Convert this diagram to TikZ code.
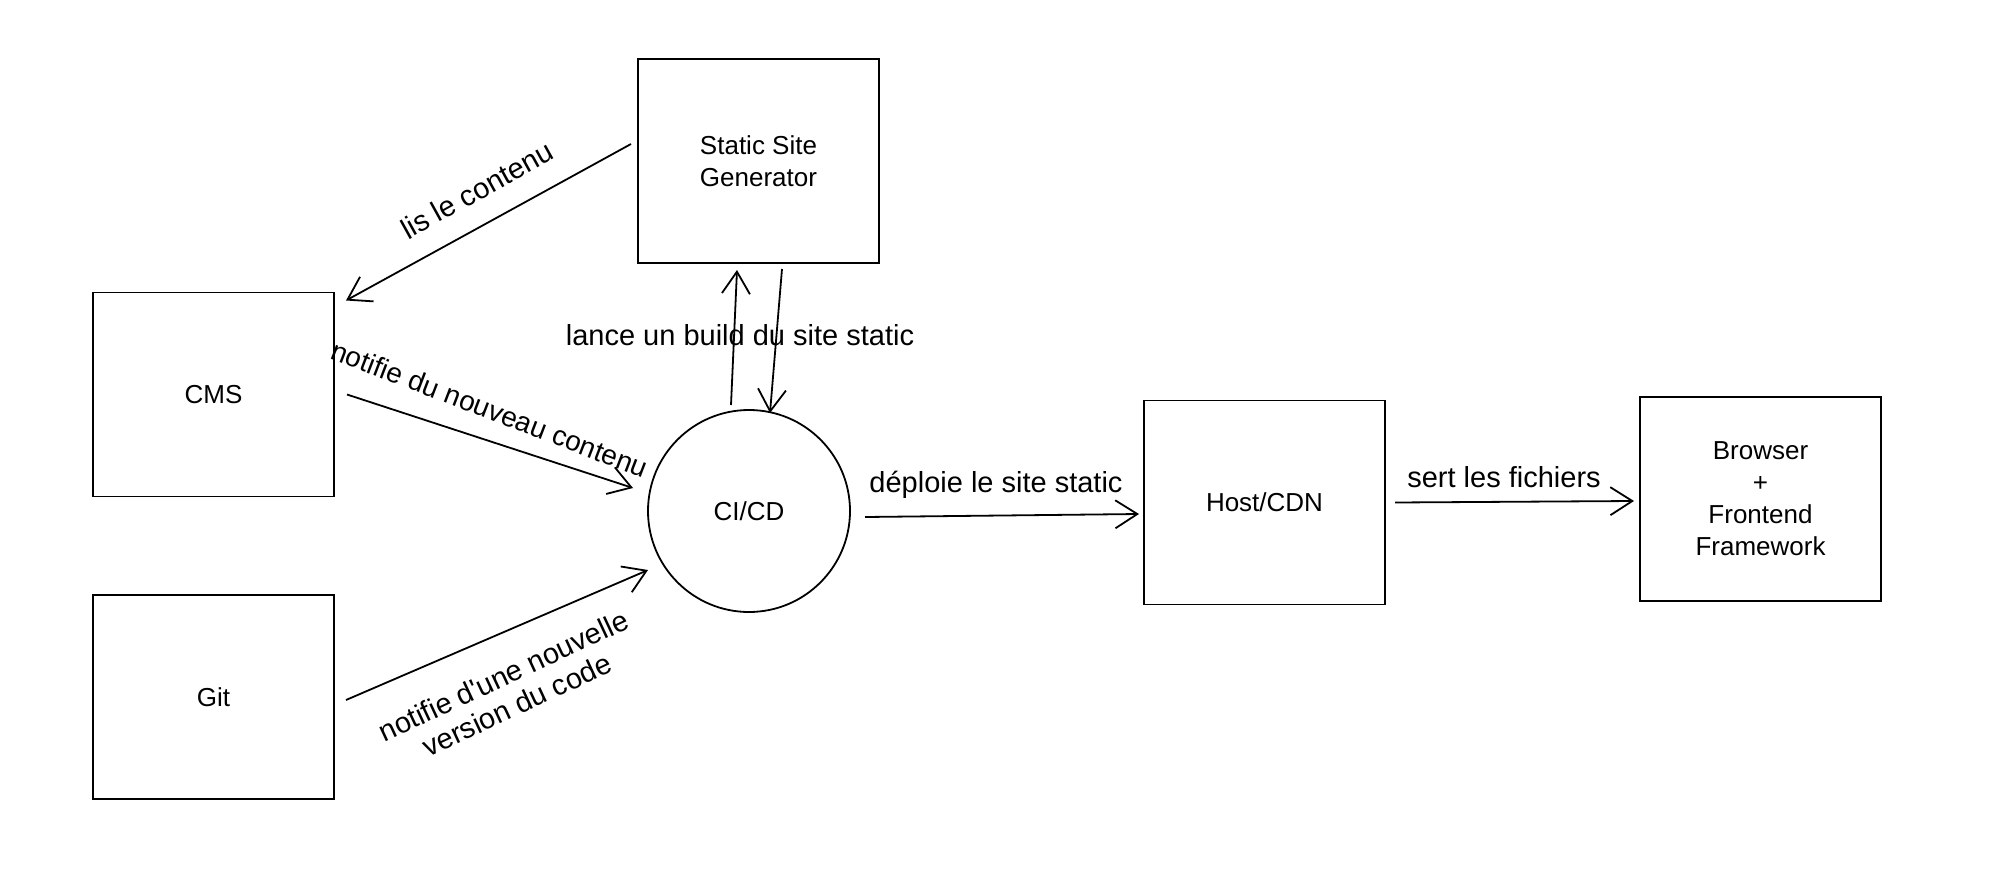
\documentclass[tikz,border=0pt]{standalone}
\usepackage{fontspec}
\setmainfont{Liberation Sans}
\usetikzlibrary{arrows.meta,calc}
\begin{document}
\begin{tikzpicture}[x=0.5pt,y=-0.5pt,
  line width=0.9pt,
  boxnode/.style={draw, rectangle, inner sep=0pt, outer sep=0pt,
    minimum width=120.5pt, minimum height=102pt, align=center,
    font=\fontsize{13}{16}\selectfont},
  roundnode/.style={draw, circle, inner sep=0pt, outer sep=0pt,
    minimum size=101pt, font=\fontsize{13}{16}\selectfont},
  flow/.style={-{Straight Barb[length=11pt,width=14pt,line width=0.9pt]}},
  lbl/.style={inner sep=1pt, align=center, font=\fontsize{14.5}{16}\selectfont}]
\useasboundingbox[fill=white] (0,0) rectangle (2000,872);

\node[boxnode] (ssg) at (758.5,161) {Static Site\\Generator};
\node[boxnode] (cms) at (213.5,394.5) {CMS};
\node[boxnode] (git) at (213.5,697) {Git};
\node[roundnode] (cicd) at (749,511) {CI/CD};
\node[boxnode] (host) at (1264.5,502.5) {Host/CDN};
\node[boxnode] (browser) at (1760.5,499) {Browser\\+\\Frontend\\Framework};

\draw[flow] ([xshift=-3.5pt,yshift=8.5pt]ssg.west) -- ([xshift=6pt,yshift=-4pt]cms.north east);
\draw[flow] ([xshift=6.5pt]cms.east) -- ([xshift=-7.5pt,yshift=11.5pt]cicd.west);
\draw[flow] ([xshift=6pt,yshift=-1.5pt]git.east) -- ([yshift=-29.5pt]cicd.west);
\draw[flow] ([xshift=-9pt,yshift=2.5pt]cicd.north) -- ([xshift=-10.75pt,yshift=-3.5pt]ssg.south);
\draw[flow] ([xshift=11.75pt,yshift=-3pt]ssg.south) -- ([xshift=10.5pt,yshift=-1.5pt]cicd.north);
\draw[flow] ([xshift=7.5pt,yshift=-3pt]cicd.east) -- ([xshift=-2.5pt,yshift=-5.75pt]host.west);
\draw[flow] ([xshift=5pt]host.east) -- ([xshift=-3pt,yshift=-1pt]browser.west);

\node[lbl, rotate=29] (l1) at (477,190) {lis le contenu};
\node[lbl, rotate=-21, font=\fontsize{14}{16}\selectfont] (l2) at (490,409) {notifie du nouveau contenu};
\node[lbl, rotate=25] (l3) at (510,690) {notifie d\textquotesingle une nouvelle\\version du code};
\node[lbl] (l4) at (740,335) {lance un build du site static};
\node[lbl] (l5) at (996,485) {déploie le site static};
\node[lbl] (l6) at (1504,477) {sert les fichiers};
\end{tikzpicture}
\end{document}
